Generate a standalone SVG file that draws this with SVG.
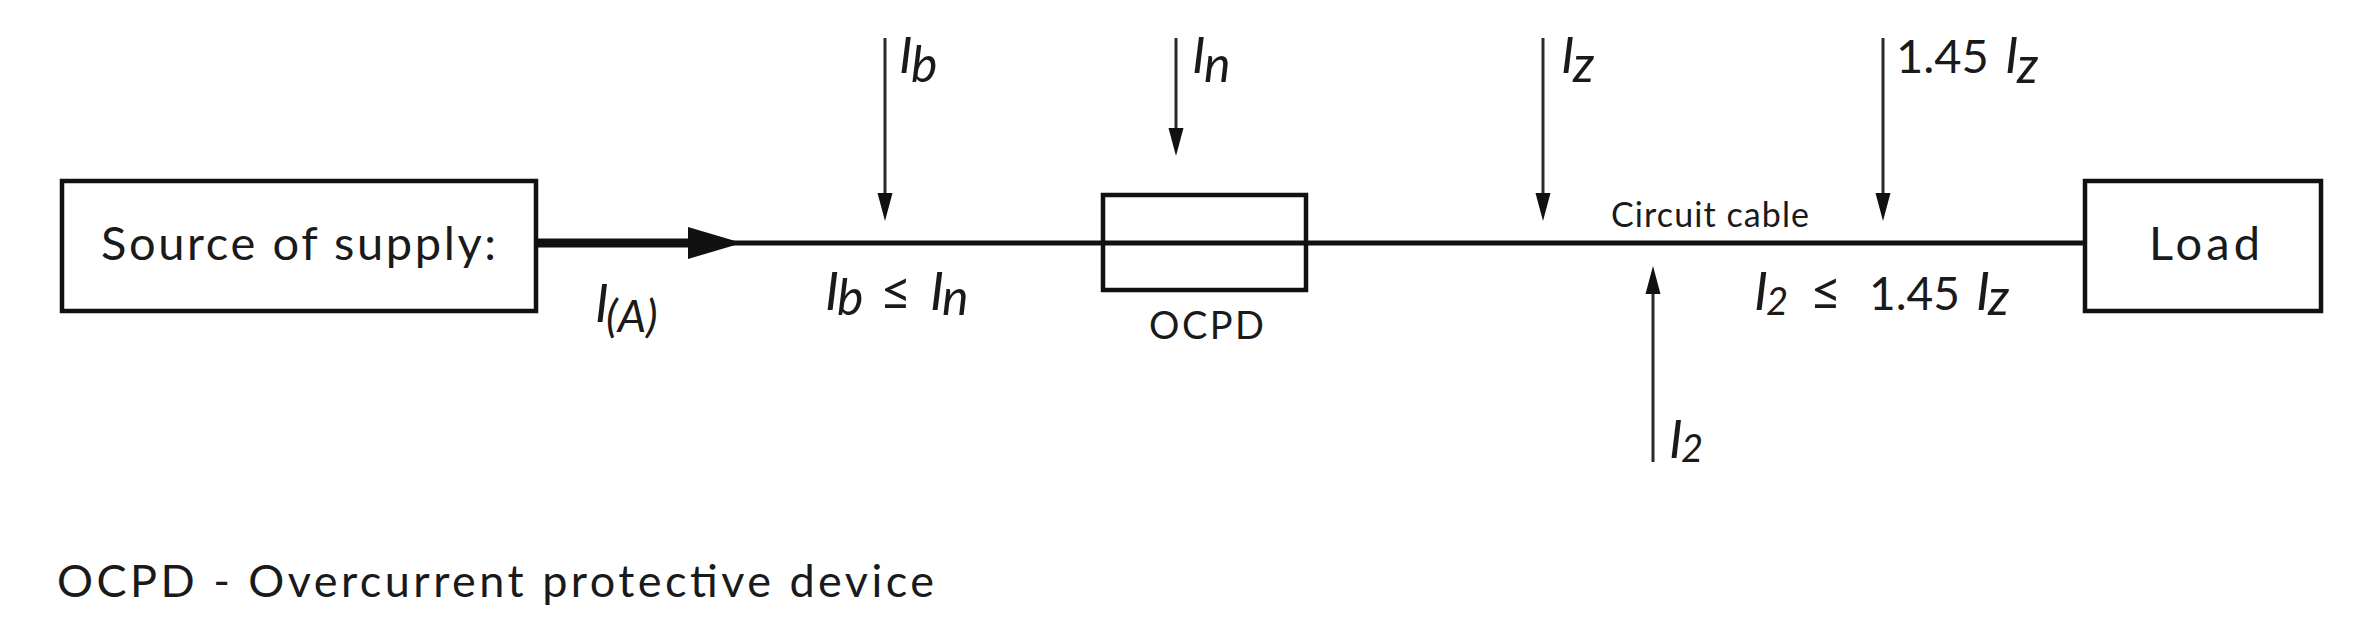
<svg xmlns="http://www.w3.org/2000/svg" width="2362" height="621" viewBox="0 0 2362 621">
<style>
  .box { fill: #ffffff; stroke: #111; stroke-width: 4.5; }
  .fuse { fill: none; stroke: #111; stroke-width: 4.5; }
  .wire { stroke: #111; stroke-width: 5; fill: none; }
  .ptr { stroke: #2a2a2a; stroke-width: 3; fill: none; }
  .head { fill: #111; }
  .txt { font-family: Lato, "Liberation Sans", sans-serif; fill: #1a1a1a; }
  .lbl { font-family: Lato, "Liberation Sans", sans-serif; font-style: italic; fill: #1a1a1a; }
  .num { font-family: Lato, "Liberation Sans", sans-serif; font-style: normal; fill: #1a1a1a; }
</style>
<rect width="2362" height="621" fill="#ffffff"/>

<g id="connectors">
  <line x1="538" y1="243" x2="700" y2="243" stroke="#111" stroke-width="9"/>
  <polygon class="head" points="688,227 742,243 688,259"/>
  <line class="wire" x1="700" y1="243" x2="2085" y2="243"/>
  <line class="ptr" x1="885" y1="38" x2="885" y2="196"/>
  <polygon class="head" points="877.5,193 892.5,193 885,221"/>
  <line class="ptr" x1="1176" y1="38" x2="1176" y2="130"/>
  <polygon class="head" points="1168.5,128 1183.5,128 1176,156"/>
  <line class="ptr" x1="1543" y1="38" x2="1543" y2="196"/>
  <polygon class="head" points="1535.5,193 1550.5,193 1543,221"/>
  <line class="ptr" x1="1883" y1="38" x2="1883" y2="196"/>
  <polygon class="head" points="1875.5,193 1890.5,193 1883,221"/>
  <line class="ptr" x1="1653" y1="462" x2="1653" y2="290"/>
  <polygon class="head" points="1645.5,294 1660.5,294 1653,266"/>
</g>

<g id="source">
  <rect class="box" x="62" y="181" width="474" height="130"/>
  <text class="txt" x="101" y="260" font-size="47" textLength="395" lengthAdjust="spacing">Source of supply:</text>
</g>

<g id="ocpd">
  <rect class="fuse" x="1103" y="195" width="203" height="95"/>
  <text class="txt" x="1149" y="339" font-size="38" textLength="115" lengthAdjust="spacing">OCPD</text>
</g>

<g id="load">
  <rect class="box" x="2085" y="181" width="236" height="130"/>
  <text class="txt" x="2149" y="260" font-size="47" textLength="111" lengthAdjust="spacing">Load</text>
</g>

<g id="labels">
  <text class="lbl" font-size="52" y="322"><tspan x="595">I</tspan><tspan x="606" font-size="45" dy="10">(A)</tspan></text>
  <text class="lbl" font-size="51" y="73"><tspan x="899">I</tspan><tspan x="911" font-size="50" dy="9">b</tspan></text>
  <text class="lbl" font-size="51" y="73"><tspan x="1192">I</tspan><tspan x="1204" font-size="50" dy="9">n</tspan></text>
  <text class="lbl" font-size="51" y="73"><tspan x="1561">I</tspan><tspan x="1573" font-size="50" dy="9">z</tspan></text>
  <text class="num" font-size="47" y="73"><tspan x="1896">1.45</tspan><tspan class="lbl" font-style="italic" font-size="51" x="2005">I</tspan><tspan class="lbl" font-style="italic" font-size="50" x="2017" dy="10">z</tspan></text>
  <text class="txt" x="1611" y="227" font-size="34" textLength="198" lengthAdjust="spacing">Circuit cable</text>
  <text class="lbl" font-size="53" y="310"><tspan x="825">I</tspan><tspan x="837" font-size="50" dy="5">b</tspan><tspan class="num" font-style="normal" font-size="54" x="880" dy="-5">≤</tspan><tspan x="930">I</tspan><tspan x="942" font-size="50" dy="5">n</tspan></text>
  <text class="lbl" font-size="53" y="310"><tspan x="1754">I</tspan><tspan x="1766" font-size="38" dy="5">2</tspan><tspan class="num" font-style="normal" font-size="54" x="1810" dy="-5">≤</tspan><tspan class="num" font-style="normal" font-size="46" x="1869">1.45</tspan><tspan x="1976">I</tspan><tspan x="1988" font-size="50" dy="5">z</tspan></text>
  <text class="lbl" font-size="52" y="458"><tspan x="1669">I</tspan><tspan x="1681" font-size="38" dy="4">2</tspan></text>
  <text class="txt" x="57" y="597" font-size="45" textLength="877" lengthAdjust="spacing">OCPD - Overcurrent protective device</text>
</g>
</svg>
